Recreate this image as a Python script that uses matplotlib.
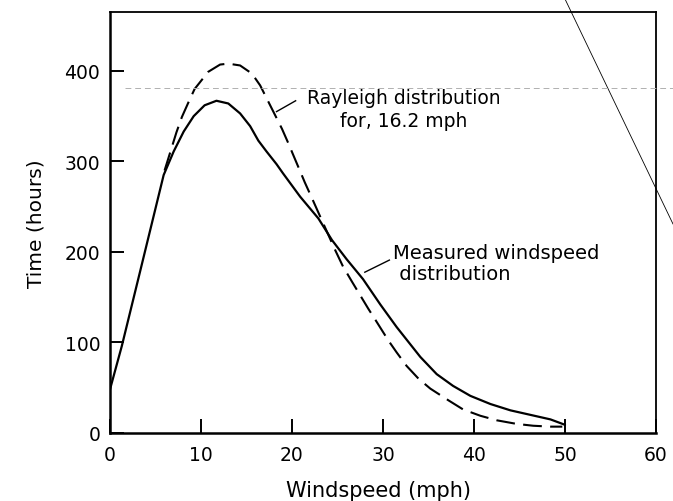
import matplotlib
matplotlib.use("Agg")
import matplotlib.pyplot as plt
from matplotlib.lines import Line2D

plt.rcParams['font.family'] = ['DejaVu Sans']

# Measured windspeed distribution (solid)
measured_speed = [0, 1.3, 3.3, 5.9, 7.0, 8.1, 9.2, 10.4, 11.7, 13.0, 14.3, 15.4, 16.3,
                  17.2, 18.3, 19.0, 20.9, 22.9, 24.4, 26.0, 27.8, 29.7, 31.5, 34.1,
                  35.9, 37.7, 39.6, 41.8, 44.0, 46.2, 48.4, 50]
measured_hours = [48, 96, 178, 285, 311, 333, 350, 362, 367, 364, 353, 339, 323,
                  311, 297, 287, 261, 237, 213, 192, 170, 142, 117, 84,
                  65, 52, 41, 32, 25, 20, 15, 9]

# Rayleigh distribution for 16.2 mph (dashed)
rayleigh_speed = [6.0, 7.3, 7.9, 8.7, 9.3, 10.8, 12.1, 13.0, 14.3, 15.6, 16.5, 17.2,
                  18.1, 18.9, 19.6, 20.1, 20.9, 21.4, 22.3, 24.7, 25.6, 26.6, 27.5,
                  28.4, 29.1, 30.6, 31.5, 32.6, 33.9, 35.2, 37.2, 38.8, 40.7, 42.5,
                  44.7, 46.5, 48.4, 49.7]
rayleigh_hours = [290, 332, 349, 367, 380, 399, 407, 408, 406, 397, 384, 370,
                  352, 336, 320, 308, 289, 277, 257, 203, 184, 167, 152,
                  137, 126, 102, 89, 74, 60, 49, 36, 26, 19, 14,
                  10, 8, 7, 7]

x_ticks = [0, 10, 20, 30, 40, 50, 60]
y_ticks = [0, 100, 200, 300, 400]

fig = plt.figure(figsize=(6.73, 5.02), dpi=100)
ax = fig.add_axes([0.1634, 0.1355, 0.9748 - 0.1634, 0.974 - 0.1355])

ax.plot(measured_speed, measured_hours, color='black', lw=1.6,
        solid_capstyle='round', solid_joinstyle='round')
ax.plot(rayleigh_speed, rayleigh_hours, color='black', lw=1.5, dashes=(9, 4))

ax.set_xlim(0, 60)
ax.set_ylim(0, 465)
ax.set_xticks(x_ticks)
ax.set_yticks(y_ticks)
ax.tick_params(axis='both', direction='in', length=10, width=1.4, labelsize=13.5,
               color='black')
ax.tick_params(axis='x', pad=9)
ax.tick_params(axis='y', pad=7)
for s in ['left', 'bottom']:
    ax.spines[s].set_linewidth(1.8)
for s in ['top', 'right']:
    ax.spines[s].set_linewidth(1.3)

ax.set_xlabel('Windspeed (mph)', fontsize=15)
ax.xaxis.set_label_coords(0.491, -0.112)
ax.set_ylabel('Time (hours)', fontsize=14.5, labelpad=14)

# Annotations with leader lines
ax.plot([18.3, 20.4], [355, 367], color='black', lw=1.0)
ax.text(32.3, 358, 'Rayleigh distribution\nfor, 16.2 mph', fontsize=13.5,
        ha='center', va='center', multialignment='center', linespacing=1.3)
ax.plot([28.0, 30.7], [177.6, 191], color='black', lw=1.0)
ax.text(31.1, 188, 'Measured windspeed\n distribution', fontsize=14,
        ha='left', va='center', multialignment='left', linespacing=1.15)

# scan artefacts: diagonal line and faint dotted rule
fig.add_artist(Line2D([565 / 673, 1.0], [1, 1 - 225 / 502], transform=fig.transFigure,
                      color='black', lw=0.6))
fig.add_artist(Line2D([125 / 673, 1.0], [1 - 89 / 502, 1 - 89 / 502],
                      transform=fig.transFigure, color='#b0b0b0', lw=0.7,
                      dashes=(6, 4)))

fig.savefig('out.png', dpi=100)
